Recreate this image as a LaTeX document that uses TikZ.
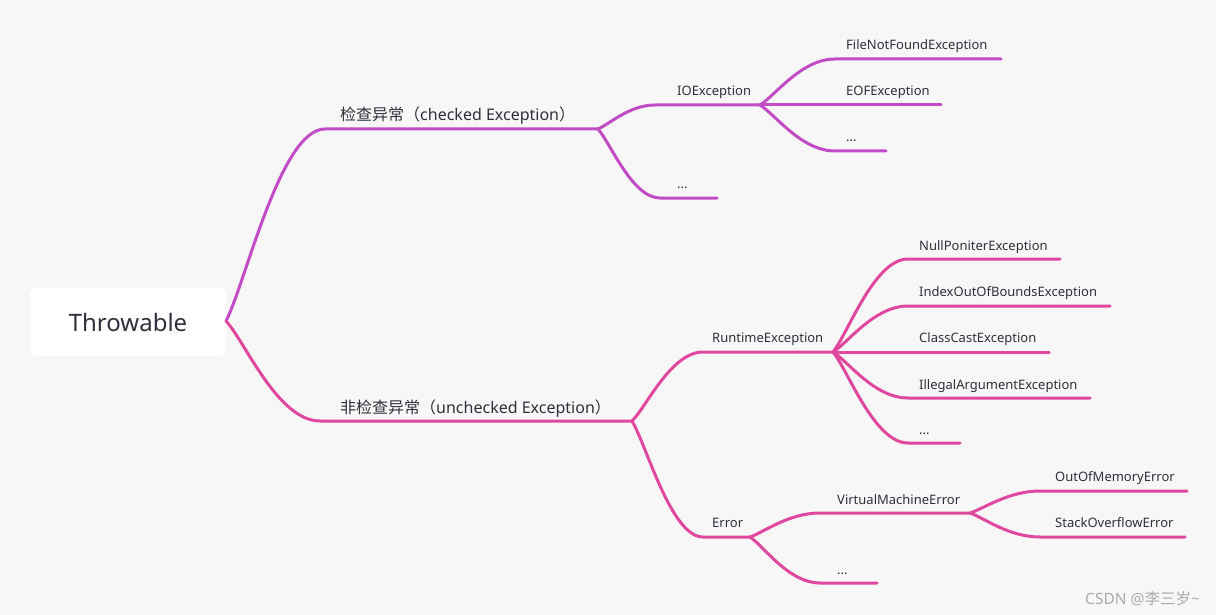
\documentclass[tikz,border=0pt]{standalone}
\usepackage{fontspec}
\setmainfont{Noto Sans}
\newfontfamily\cjk{Noto Sans CJK SC}
\usetikzlibrary{calc}
\definecolor{bgc}{HTML}{F7F7F7}
\definecolor{txtc}{HTML}{30303C}
\definecolor{purp}{HTML}{C14CC5}
\definecolor{pinkc}{HTML}{E0479E}
\definecolor{wmc}{HTML}{ABABAB}
\tikzset{
  lbl/.style={anchor=base west, inner sep=0pt, text=txtc, font=\fontsize{13}{15}\selectfont},
  biglbl/.style={anchor=base west, inner sep=0pt, text=txtc, font=\fontsize{16}{19}\selectfont},
  edgeP/.style={draw=purp, line width=3pt, line cap=round},
  edgeK/.style={draw=pinkc, line width=3pt, line cap=round},
  rootbox/.style={fill=white, rounded corners=7pt, minimum width=196pt, minimum height=68pt, inner sep=0pt, text=txtc, font=\fontsize{24}{28}\selectfont}
}
\newcommand\mmbranch[4]{\draw[#1] let \p1=(#2), \p2=(#3) in (\p1) .. controls ({\x1+0.2*(\x2-\x1)},{\y1+0.2*(\y2-\y1)}) and ({\x1+0.55*(\x2-\x1)},\y2) .. (\p2) -- (#4);}
\begin{document}
\begin{tikzpicture}[x=1pt,y=-1pt]
\fill[bgc] (0,0) rectangle (1216,615);
\useasboundingbox (0,0) rectangle (1216,615);
% root
\node[rootbox] (root) at (128,322) {Throwable};
\coordinate (R) at (226,321);
% level 1
\coordinate (c1s) at (325,129); \coordinate (c1e) at (598,129);
\coordinate (u1s) at (320,421); \coordinate (u1e) at (632,421);
\node[biglbl] (checked) at (340,121) {{\cjk 检查异常（}checked Exception{\cjk ）}};
\node[biglbl] (unchecked) at (340,413) {{\cjk 非检查异常（}unchecked Exception{\cjk ）}};
\mmbranch{edgeP}{R}{c1s}{c1e}
\mmbranch{edgeK}{R}{u1s}{u1e}
% checked children
\coordinate (ios) at (655,105); \coordinate (ioe) at (760,105);
\coordinate (d1s) at (660,198); \coordinate (d1e) at (717,198);
\node[lbl] (io) at (677,96) {IOException};
\node[lbl] (dots1) at (677,189) {...};
\mmbranch{edgeP}{c1e}{ios}{ioe}
\mmbranch{edgeP}{c1e}{d1s}{d1e}
% IOException children
\coordinate (fnfs) at (835,59); \coordinate (fnfe) at (1001,59);
\coordinate (eofe) at (941,105);
\coordinate (d2s) at (835,151); \coordinate (d2e) at (886,151);
\node[lbl] (fnf) at (846,50) {FileNotFoundException};
\node[lbl] (eof) at (846,96) {EOFException};
\node[lbl] (dots2) at (846,142) {...};
\mmbranch{edgeP}{ioe}{fnfs}{fnfe}
\draw[edgeP] (ioe) -- (eofe);
\mmbranch{edgeP}{ioe}{d2s}{d2e}
% unchecked children
\coordinate (rts) at (703,352); \coordinate (rte) at (833,352);
\coordinate (ers) at (703,537); \coordinate (ere) at (750,537);
\node[lbl] (rt) at (712,342) {RuntimeException};
\node[lbl] (err) at (712,527) {Error};
\mmbranch{edgeK}{u1e}{rts}{rte}
\mmbranch{edgeK}{u1e}{ers}{ere}
% runtime children
\coordinate (nps) at (908,259); \coordinate (npe) at (1060,259);
\coordinate (ixs) at (908,306); \coordinate (ixe) at (1110,306);
\coordinate (cce) at (1049,352);
\coordinate (ias) at (908,398); \coordinate (iae) at (1090,398);
\coordinate (d3s) at (908,443); \coordinate (d3e) at (960,443);
\node[lbl] (np) at (919,250) {NullPoniterException};
\node[lbl] (ix) at (919,296) {IndexOutOfBoundsException};
\node[lbl] (cc) at (919,342) {ClassCastException};
\node[lbl] (ia) at (919,389) {IllegalArgumentException};
\node[lbl] (dots3) at (919,434) {...};
\mmbranch{edgeK}{rte}{nps}{npe}
\mmbranch{edgeK}{rte}{ixs}{ixe}
\draw[edgeK] (rte) -- (cce);
\mmbranch{edgeK}{rte}{ias}{iae}
\mmbranch{edgeK}{rte}{d3s}{d3e}
% error children
\coordinate (vms) at (820,513); \coordinate (vme) at (970,513);
\coordinate (d4s) at (820,583); \coordinate (d4e) at (877,583);
\node[lbl] (vm) at (837,504) {VirtualMachineError};
\node[lbl] (dots4) at (837,574) {...};
\mmbranch{edgeK}{ere}{vms}{vme}
\mmbranch{edgeK}{ere}{d4s}{d4e}
% VME children
\coordinate (oms) at (1040,491); \coordinate (ome) at (1187,491);
\coordinate (sos) at (1040,537); \coordinate (soe) at (1185,537);
\node[lbl] (om) at (1055,481) {OutOfMemoryError};
\node[lbl] (so) at (1055,527) {StackOverflowError};
\mmbranch{edgeK}{vme}{oms}{ome}
\mmbranch{edgeK}{vme}{sos}{soe}
% watermark
\node[anchor=base west, inner sep=0pt, text=wmc, font=\fontsize{15.5}{18}\selectfont] (wm) at (1085,604) {CSDN @{\cjk 李三岁}\textasciitilde};
\end{tikzpicture}
\end{document}
